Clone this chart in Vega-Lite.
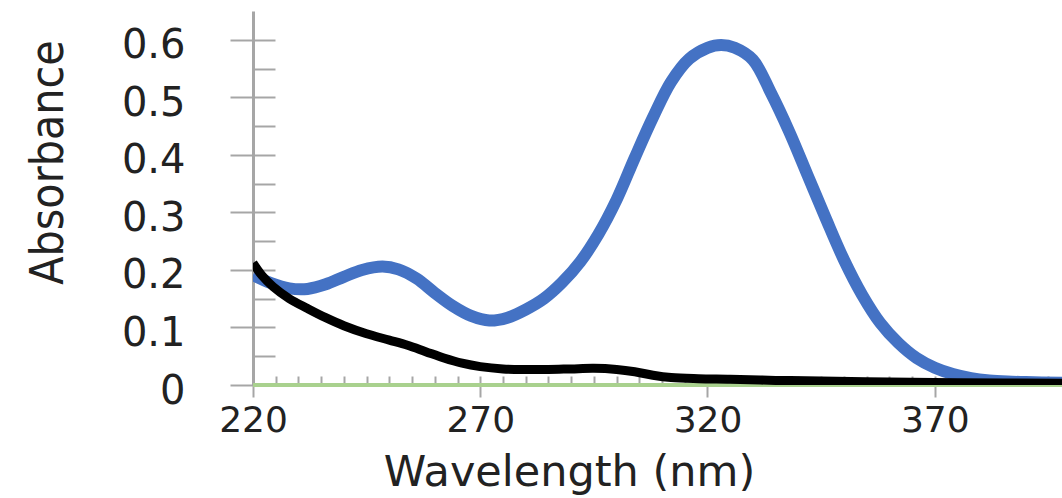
{
  "$schema": "https://vega.github.io/schema/vega-lite/v6.json",
  "autosize": "none",
  "padding": {"left": 253, "top": 11, "right": 0, "bottom": 113},
  "width": 809,
  "height": 374,
  "background": "white",
  "config": {"view": {"stroke": null}},
  "datasets": {
    "spectra": [
      {"series": "blue", "wl": 220, "abs": 0.191},
      {"series": "blue", "wl": 224, "abs": 0.177},
      {"series": "blue", "wl": 228, "abs": 0.168},
      {"series": "blue", "wl": 232, "abs": 0.167},
      {"series": "blue", "wl": 236, "abs": 0.175},
      {"series": "blue", "wl": 240, "abs": 0.188},
      {"series": "blue", "wl": 244, "abs": 0.200},
      {"series": "blue", "wl": 248.5, "abs": 0.206},
      {"series": "blue", "wl": 252, "abs": 0.201},
      {"series": "blue", "wl": 256, "abs": 0.185},
      {"series": "blue", "wl": 260, "abs": 0.160},
      {"series": "blue", "wl": 264, "abs": 0.137},
      {"series": "blue", "wl": 268, "abs": 0.120},
      {"series": "blue", "wl": 272, "abs": 0.112},
      {"series": "blue", "wl": 276, "abs": 0.117},
      {"series": "blue", "wl": 280, "abs": 0.131},
      {"series": "blue", "wl": 284, "abs": 0.150},
      {"series": "blue", "wl": 288, "abs": 0.178},
      {"series": "blue", "wl": 292, "abs": 0.214},
      {"series": "blue", "wl": 296, "abs": 0.262},
      {"series": "blue", "wl": 300, "abs": 0.322},
      {"series": "blue", "wl": 304, "abs": 0.395},
      {"series": "blue", "wl": 308, "abs": 0.465},
      {"series": "blue", "wl": 312, "abs": 0.527},
      {"series": "blue", "wl": 316, "abs": 0.567},
      {"series": "blue", "wl": 320, "abs": 0.586},
      {"series": "blue", "wl": 323, "abs": 0.591},
      {"series": "blue", "wl": 326, "abs": 0.586},
      {"series": "blue", "wl": 330, "abs": 0.565},
      {"series": "blue", "wl": 334, "abs": 0.507},
      {"series": "blue", "wl": 338, "abs": 0.440},
      {"series": "blue", "wl": 342, "abs": 0.365},
      {"series": "blue", "wl": 346, "abs": 0.290},
      {"series": "blue", "wl": 350, "abs": 0.218},
      {"series": "blue", "wl": 354, "abs": 0.157},
      {"series": "blue", "wl": 358, "abs": 0.108},
      {"series": "blue", "wl": 362, "abs": 0.073},
      {"series": "blue", "wl": 366, "abs": 0.047},
      {"series": "blue", "wl": 370, "abs": 0.030},
      {"series": "blue", "wl": 374, "abs": 0.019},
      {"series": "blue", "wl": 378, "abs": 0.012},
      {"series": "blue", "wl": 382, "abs": 0.008},
      {"series": "blue", "wl": 386, "abs": 0.006},
      {"series": "blue", "wl": 390, "abs": 0.005},
      {"series": "blue", "wl": 398, "abs": 0.004},
      {"series": "black", "wl": 220, "abs": 0.212},
      {"series": "black", "wl": 222, "abs": 0.190},
      {"series": "black", "wl": 224.4, "abs": 0.171},
      {"series": "black", "wl": 228, "abs": 0.150},
      {"series": "black", "wl": 232, "abs": 0.133},
      {"series": "black", "wl": 236, "abs": 0.117},
      {"series": "black", "wl": 240, "abs": 0.103},
      {"series": "black", "wl": 245, "abs": 0.089},
      {"series": "black", "wl": 250, "abs": 0.078},
      {"series": "black", "wl": 254, "abs": 0.069},
      {"series": "black", "wl": 258, "abs": 0.058},
      {"series": "black", "wl": 262, "abs": 0.047},
      {"series": "black", "wl": 266, "abs": 0.038},
      {"series": "black", "wl": 270, "abs": 0.032},
      {"series": "black", "wl": 275, "abs": 0.028},
      {"series": "black", "wl": 280, "abs": 0.027},
      {"series": "black", "wl": 285, "abs": 0.027},
      {"series": "black", "wl": 290, "abs": 0.028},
      {"series": "black", "wl": 295, "abs": 0.029},
      {"series": "black", "wl": 300, "abs": 0.027},
      {"series": "black", "wl": 304, "abs": 0.023},
      {"series": "black", "wl": 308, "abs": 0.017},
      {"series": "black", "wl": 312, "abs": 0.013},
      {"series": "black", "wl": 318, "abs": 0.011},
      {"series": "black", "wl": 325, "abs": 0.010},
      {"series": "black", "wl": 335, "abs": 0.008},
      {"series": "black", "wl": 345, "abs": 0.007},
      {"series": "black", "wl": 360, "abs": 0.005},
      {"series": "black", "wl": 375, "abs": 0.004},
      {"series": "black", "wl": 398, "abs": 0.003}
    ],
    "baseline": [
      {"wl": 220, "abs": 0},
      {"wl": 398, "abs": 0}
    ]
  },
  "layer": [
    {
      "data": {"name": "baseline"},
      "mark": {"type": "line", "color": "#a9d18e", "strokeWidth": 4, "clip": false},
      "encoding": {
        "x": {
          "field": "wl", "type": "quantitative",
          "scale": {"domain": [220, 398], "nice": false, "zero": false},
          "axis": {
            "orient": "bottom", "domain": false, "labels": false, "title": null, "grid": false,
            "values": [220,225,230,235,240,245,250,255,260,265,270,275,280,285,290,295,300,305,310,315,320,325,330,335,340,345,350,355,360,365,370,375,380,385,390,395],
            "tickSize": -9, "tickColor": "#a6a6a6", "tickWidth": 2
          }
        },
        "y": {
          "field": "abs", "type": "quantitative",
          "scale": {"domain": [0, 0.65], "nice": false, "zero": false},
          "axis": {
            "orient": "left", "domain": false, "labels": false, "title": null, "grid": false,
            "values": [0,0.05,0.1,0.15,0.2,0.25,0.3,0.35,0.4,0.45,0.5,0.55,0.6],
            "tickSize": -22, "tickColor": "#a6a6a6", "tickWidth": 2
          }
        }
      }
    },
    {
      "data": {"name": "spectra"},
      "mark": {"type": "line", "interpolate": "catmull-rom", "clip": true, "strokeCap": "butt"},
      "encoding": {
        "x": {
          "field": "wl", "type": "quantitative",
          "scale": {"domain": [220, 398], "nice": false, "zero": false},
          "axis": {
            "orient": "bottom", "domain": true, "domainColor": "#a6a6a6", "domainWidth": 2,
            "grid": false,
            "values": [220, 270, 320, 370],
            "tickSize": 12, "tickColor": "#a6a6a6", "tickWidth": 2,
            "labelFont": "DejaVu Sans", "labelFontSize": 36, "labelColor": "#222222",
            "labelPadding": 6, "labelFlush": false, "labelOverlap": false,
            "title": "Wavelength (nm)", "titleFont": "DejaVu Sans", "titleFontSize": 43,
            "titleFontWeight": "normal", "titleColor": "#222222",
            "titleX": 316, "titleY": 100, "titleBaseline": "alphabetic", "titleAlign": "center"
          }
        },
        "y": {
          "field": "abs", "type": "quantitative",
          "scale": {"domain": [0, 0.65], "nice": false, "zero": false},
          "axis": {
            "orient": "left", "domain": true, "domainColor": "#a6a6a6", "domainWidth": 3,
            "grid": false,
            "values": [0, 0.1, 0.2, 0.3, 0.4, 0.5, 0.6],
            "labelExpr": "datum.value == 0 ? '0' : format(datum.value, '.1f')",
            "tickSize": 23, "tickColor": "#a6a6a6", "tickWidth": 2,
            "labelFont": "DejaVu Sans", "labelFontSize": 40, "labelColor": "#222222",
            "labelPadding": 45, "labelOffset": 6, "labelFlush": false, "labelOverlap": false,
            "title": "Absorbance", "titleFont": "DejaVu Sans Condensed", "titleFontSize": 46,
            "titleFontWeight": "normal", "titleColor": "#222222",
            "titleX": -191, "titleY": 151, "titleAngle": -90, "titleBaseline": "alphabetic", "titleAlign": "center"
          }
        },
        "color": {
          "field": "series", "type": "nominal",
          "scale": {"domain": ["black", "blue"], "range": ["#000000", "#4472c4"]},
          "legend": null
        },
        "strokeWidth": {
          "field": "series", "type": "nominal",
          "scale": {"domain": ["black", "blue"], "range": [9, 12]},
          "legend": null
        },
        "order": {"field": "wl", "type": "quantitative"}
      }
    }
  ],
  "resolve": {"scale": {"x": "independent", "y": "independent"}}
}
